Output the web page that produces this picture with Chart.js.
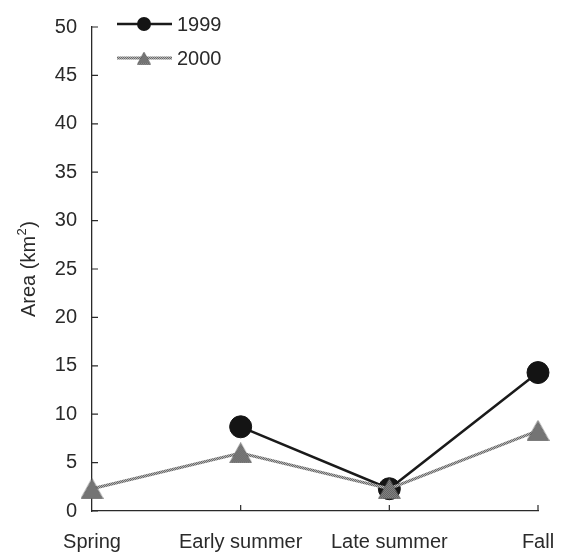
<!DOCTYPE html>
<html>
<head>
<meta charset="utf-8">
<script src="https://cdn.jsdelivr.net/npm/chart.js@4/dist/chart.umd.min.js"></script>
<style>
  html, body { margin: 0; padding: 0; background: #fff; }
  #wrap { width: 575px; height: 559px; }
</style>
</head>
<body>
<div id="wrap"><canvas id="c" width="575" height="559"></canvas></div>
<script>
// Seasons along the x axis
const seasons = ['Spring', 'Early summer', 'Late summer', 'Fall'];
// Area (km²) per season
const area1999 = [null, 8.7, 2.3, 14.3];
const area2000 = [2.3, 6.0, 2.3, 8.3];
// Y axis range
const yMin = 0;
const yMax = 50;
const yStep = 5;

const FONT = 'Liberation Sans, Arial, sans-serif';
const INK = '#2a2a2a';

// Fine checkered grey used for the 2000 series
function makeStipple(dark, light) {
  const c = document.createElement('canvas');
  c.width = 2; c.height = 2;
  const g = c.getContext('2d');
  g.fillStyle = light; g.fillRect(0, 0, 2, 2);
  g.fillStyle = dark; g.fillRect(0, 0, 1, 1); g.fillRect(1, 1, 1, 1);
  return g.createPattern(c, 'repeat');
}

// Stippled triangle marker, centred on its bounding box
function makeTriangle(w, h) {
  const c = document.createElement('canvas');
  c.width = w; c.height = h;
  const g = c.getContext('2d');
  const cc = document.createElement('canvas');
  cc.width = 2; cc.height = 2;
  const gg = cc.getContext('2d');
  gg.fillStyle = '#9a9a9a'; gg.fillRect(0, 0, 2, 2);
  gg.fillStyle = '#4e4e4e'; gg.fillRect(0, 0, 1, 1); gg.fillRect(1, 1, 1, 1);
  g.fillStyle = g.createPattern(cc, 'repeat');
  g.beginPath();
  g.moveTo(w / 2, 0.5);
  g.lineTo(w - 0.5, h - 0.5);
  g.lineTo(0.5, h - 0.5);
  g.closePath();
  g.fill();
  g.strokeStyle = 'rgba(90,90,90,0.6)';
  g.lineWidth = 1;
  g.stroke();
  return c;
}

const line2000 = makeStipple('#6a6a6a', '#b4b4b4');
const triBig = makeTriangle(23, 21);
const triSmall = makeTriangle(14, 13);

// Short tick marks pointing into the plot area
const innerTicks = {
  id: 'innerTicks',
  afterDraw(chart) {
    const ctx = chart.ctx;
    const y = chart.scales.y, x = chart.scales.x;
    ctx.save();
    ctx.strokeStyle = INK;
    ctx.lineWidth = 1.2;
    ctx.beginPath();
    y.ticks.forEach((t, i) => {
      const py = y.getPixelForTick(i);
      ctx.moveTo(y.right, py);
      ctx.lineTo(y.right + 6, py);
    });
    x.ticks.forEach((t, i) => {
      if (i === 0) return;
      const px = x.getPixelForTick(i);
      ctx.moveTo(px, x.top);
      ctx.lineTo(px, x.top - 6);
    });
    ctx.stroke();
    ctx.restore();
  }
};

// Vertical axis title with a raised "2"
const axisTitle = {
  id: 'axisTitle',
  afterDraw(chart) {
    const ctx = chart.ctx;
    const area = chart.chartArea;
    const main = 'Area (km';
    const sup = '2';
    const tail = ')';
    ctx.save();
    ctx.fillStyle = INK;
    ctx.textBaseline = 'alphabetic';
    ctx.textAlign = 'left';
    const big = '20px ' + FONT, small = '13px ' + FONT;
    ctx.font = big;
    const wMain = ctx.measureText(main).width;
    const wTail = ctx.measureText(tail).width;
    ctx.font = small;
    const wSup = ctx.measureText(sup).width;
    const total = wMain + wSup + wTail + 1;
    const cy = (area.top + area.bottom) / 2;
    ctx.translate(35, cy + total / 2);
    ctx.rotate(-Math.PI / 2);
    ctx.font = big;
    ctx.fillText(main, 0, 0);
    ctx.font = small;
    ctx.fillText(sup, wMain + 0.5, -9);
    ctx.font = big;
    ctx.fillText(tail, wMain + wSup + 1, 0);
    ctx.restore();
  }
};

// Legend with a line running through each marker
const lineLegend = {
  id: 'lineLegend',
  afterDraw(chart) {
    const ctx = chart.ctx;
    const x0 = 117, x1 = 172, xm = 144;
    const rows = [24, 58];
    ctx.save();
    chart.data.datasets.forEach((ds, i) => {
      const y = rows[i];
      ctx.beginPath();
      ctx.strokeStyle = ds.borderColor;
      ctx.lineWidth = ds.borderWidth;
      ctx.moveTo(x0, y);
      ctx.lineTo(x1, y);
      ctx.stroke();
      if (ds.pointStyle === 'circle') {
        ctx.fillStyle = ds.pointBackgroundColor;
        ctx.beginPath();
        ctx.arc(xm, y, 7, 0, Math.PI * 2);
        ctx.fill();
      } else {
        ctx.drawImage(triSmall, xm - triSmall.width / 2, y - triSmall.height / 2);
      }
      ctx.fillStyle = INK;
      ctx.font = '20px ' + FONT;
      ctx.textBaseline = 'middle';
      ctx.textAlign = 'left';
      ctx.fillText(ds.label, 177, y + 1);
    });
    ctx.restore();
  }
};

new Chart(document.getElementById('c'), {
  type: 'line',
  data: {
    labels: seasons,
    datasets: [
      {
        label: '1999',
        data: area1999,
        borderColor: '#1a1a1a',
        borderWidth: 2.5,
        pointStyle: 'circle',
        pointRadius: 11,
        pointBackgroundColor: '#141414',
        pointBorderColor: '#141414',
        pointBorderWidth: 1,
        tension: 0,
        clip: false,
        order: 1
      },
      {
        label: '2000',
        data: area2000,
        borderColor: line2000,
        borderWidth: 3,
        pointStyle: triBig,
        pointRadius: 11,
        tension: 0,
        clip: false,
        order: 0
      }
    ]
  },
  options: {
    responsive: false,
    animation: false,
    devicePixelRatio: 1,
    layout: { padding: { top: 16, right: 37, left: 0, bottom: 0 } },
    plugins: {
      legend: { display: false },
      tooltip: { enabled: false }
    },
    scales: {
      x: {
        type: 'category',
        offset: false,
        grid: { display: false, drawTicks: false },
        border: { display: true, color: INK, width: 1.3 },
        ticks: {
          color: INK,
          font: { family: FONT, size: 20 },
          padding: 19,
          maxRotation: 0,
          autoSkip: false
        },
        afterFit(s) { s.height = 48; }
      },
      y: {
        min: yMin,
        max: yMax,
        grid: { display: false, drawTicks: false },
        border: { display: true, color: INK, width: 1.3 },
        ticks: {
          stepSize: yStep,
          color: INK,
          font: { family: FONT, size: 20 },
          padding: 15
        },
        afterFit(s) { s.width = 92; }
      }
    }
  },
  plugins: [innerTicks, axisTitle, lineLegend]
});
</script>
</body>
</html>
